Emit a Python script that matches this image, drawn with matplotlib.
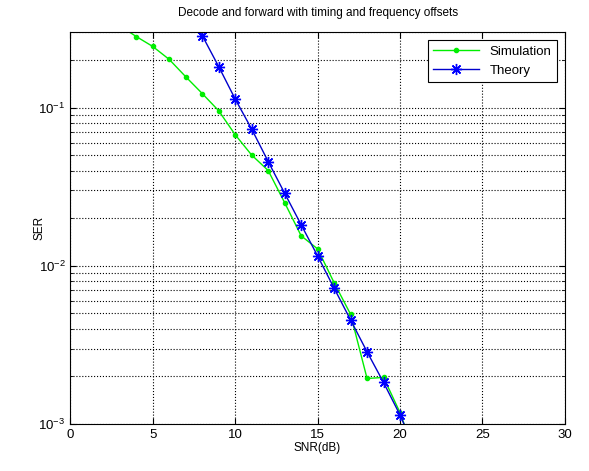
import numpy as np
import matplotlib
matplotlib.use("Agg")
from matplotlib import pyplot as plt
from matplotlib.ticker import LogLocator, NullFormatter

snr_sim = [3, 4, 5, 6, 7, 8, 9, 10, 11, 12, 13, 14, 15, 16, 17, 18, 19, 20, 21]
ser_sim = [0.33, 0.282, 0.244, 0.202, 0.157, 0.123, 0.0957, 0.0675, 0.0502, 0.0401,
           0.0251, 0.0155, 0.0128, 0.00783, 0.00494, 0.00194, 0.00197, 0.00118, 0.0006]

snr_th = [7, 8, 9, 10, 11, 12, 13, 14, 15, 16, 17, 18, 19, 20, 21]
ser_th = [0.43, 0.286, 0.182, 0.1135, 0.0733, 0.0457, 0.0288, 0.0182, 0.01156,
          0.00723, 0.00455, 0.00286, 0.00183, 0.00114, 0.00066]

plt.rcParams['font.family'] = ['Liberation Sans', 'DejaVu Sans']
plt.rcParams['font.size'] = 8.5
plt.rcParams['mathtext.fontset'] = 'custom'
plt.rcParams['mathtext.rm'] = 'Liberation Sans'
plt.rcParams['mathtext.it'] = 'Liberation Sans'
plt.rcParams['mathtext.default'] = 'rm'

fig = plt.figure(figsize=(5.89, 4.71), dpi=100)
ax = fig.add_axes([0.1195, 0.0998, 0.8395, 0.8316])

ax.semilogy(snr_sim, ser_sim, '-', color='#00ee00', lw=1.0, marker='.', ms=6, label='Simulation')
ax.semilogy(snr_th, ser_th, '-', color='#0000cc', lw=1.0, marker=(8, 2, 0), ms=8,
            mec='#0000ff', mew=1.0, label='Theory')

ax.set_xlim(0, 30)
ax.set_ylim(1e-3, 0.3)
ax.set_xticks([0, 5, 10, 15, 20, 25, 30])
ax.yaxis.set_major_locator(LogLocator(base=10))
ax.yaxis.set_minor_locator(LogLocator(base=10, subs=np.arange(2, 10)))
ax.yaxis.set_minor_formatter(NullFormatter())

ax.grid(True, which='major', ls=':', color='k', lw=0.8)
ax.grid(True, which='minor', axis='y', ls=':', color='k', lw=0.8)
ax.tick_params(which='both', direction='in', top=True, right=True, labelsize=9.5)
ax.tick_params(which='major', length=4)
ax.tick_params(which='minor', length=2)

ax.set_title('Decode and forward with timing and frequency offsets', fontsize=8.5, pad=12)
ax.set_xlabel('SNR(dB)', labelpad=1)
ax.set_ylabel('SER', labelpad=-5)

leg = ax.legend(loc='upper right', fancybox=False, edgecolor='k', framealpha=1,
                fontsize=9.5, handlelength=3.5, borderaxespad=0.6)
leg.get_frame().set_linewidth(0.8)

fig.savefig('out.png', dpi=100)
